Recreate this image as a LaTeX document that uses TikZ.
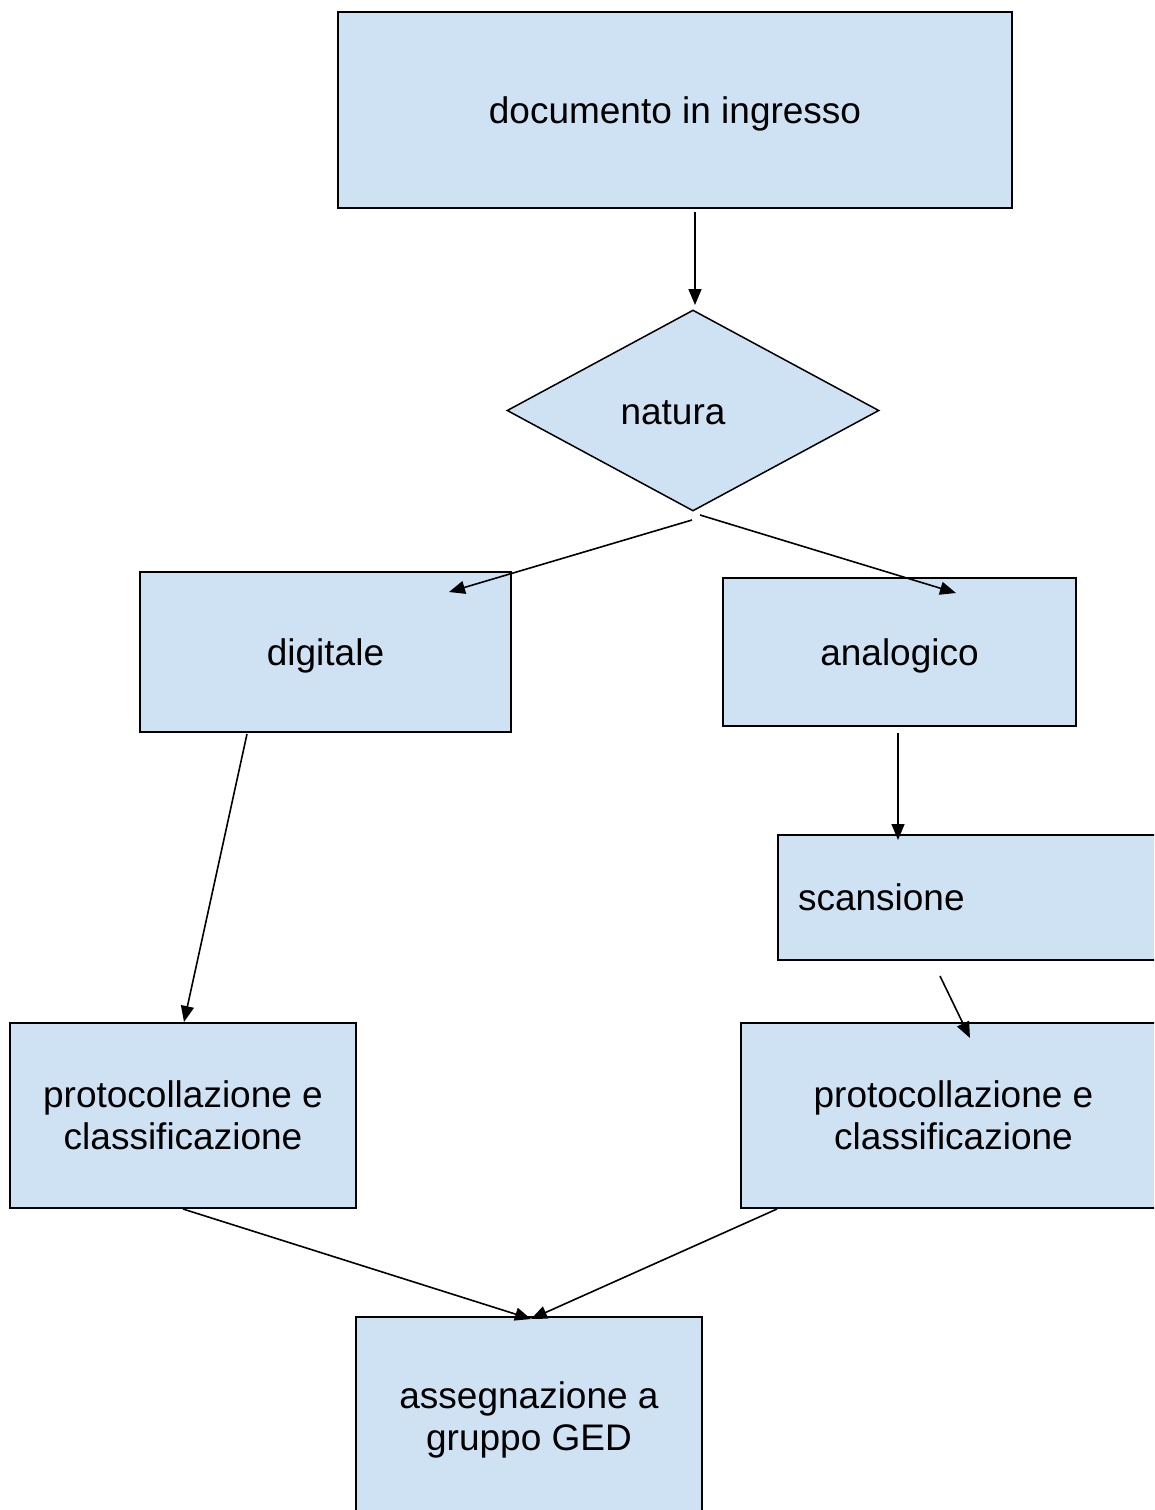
\documentclass[tikz,border=0pt]{standalone}
\usepackage{fontspec}
\setmainfont{Liberation Sans}
\usetikzlibrary{arrows.meta,shapes.geometric}
\definecolor{boxblue}{HTML}{CFE2F3}
\begin{document}
\begin{tikzpicture}[x=1pt,y=-1pt,
  box/.style={draw=black,fill=boxblue,line width=1.5pt,rectangle,inner sep=0pt,align=center,font=\fontsize{37}{42}\selectfont},
  oneline/.style={text height=35pt,text depth=8pt},
  lbl/.style={inner sep=0pt,align=center,font=\fontsize{37}{42}\selectfont},
  conn/.style={line width=1.6pt,-{Triangle[length=16pt,width=13pt]}}]
\useasboundingbox (0,0) rectangle (1154,1510);
\clip (0,0) rectangle (1154,1510);
\fill[white] (0,0) rectangle (1154,1510);
% boxes
\node[box,oneline,minimum width=674pt,minimum height=196pt] (doc) at (675,110) {documento in ingresso};
\node[draw=black,fill=boxblue,line width=1.5pt,diamond,aspect=1.851,minimum width=372pt,minimum height=201pt,inner sep=0pt] (nat) at (693,410.5) {};
\node[lbl] (nattxt) at (673,413) {natura};
\node[box,oneline,minimum width=371pt,minimum height=160pt] (dig) at (325.5,652) {digitale};
\node[box,oneline,minimum width=353pt,minimum height=148pt] (ana) at (899.5,652) {analogico};
\node[box,minimum width=402pt,minimum height=125pt,text width=362pt,align=left] (scan) at (979,897.5) {scansione};
\node[box,minimum width=346pt,minimum height=185pt] (protL) at (183,1115.5) {protocollazione e\\classificazione};
\node[box,minimum width=425pt,minimum height=185pt] (protR) at (953.5,1115.5) {protocollazione e\\classificazione};
\node[box,minimum width=346pt,minimum height=206pt] (ged) at (529,1420) {assegnazione a\\gruppo GED};
% connector end points
\coordinate (c1a) at (695,212);   \coordinate (c1b) at (695,305);
\coordinate (c2a) at (692,520);   \coordinate (c2b) at (449,592);
\coordinate (c3a) at (700,515);   \coordinate (c3b) at (956,593);
\coordinate (c4a) at (898,733);   \coordinate (c4b) at (898,840);
\coordinate (c5a) at (940,976);   \coordinate (c5b) at (970,1038);
\coordinate (c6a) at (247,734);   \coordinate (c6b) at (184,1022);
\coordinate (c7a) at (183,1209);  \coordinate (c7b) at (531,1319);
\coordinate (c8a) at (777,1209);  \coordinate (c8b) at (531,1319);
\draw[conn] (c1a) -- (c1b);
\draw[conn] (c2a) -- (c2b);
\draw[conn] (c3a) -- (c3b);
\draw[conn] (c4a) -- (c4b);
\draw[conn] (c5a) -- (c5b);
\draw[conn] (c6a) -- (c6b);
\draw[conn] (c7a) -- (c7b);
\draw[conn] (c8a) -- (c8b);
\end{tikzpicture}
\end{document}
